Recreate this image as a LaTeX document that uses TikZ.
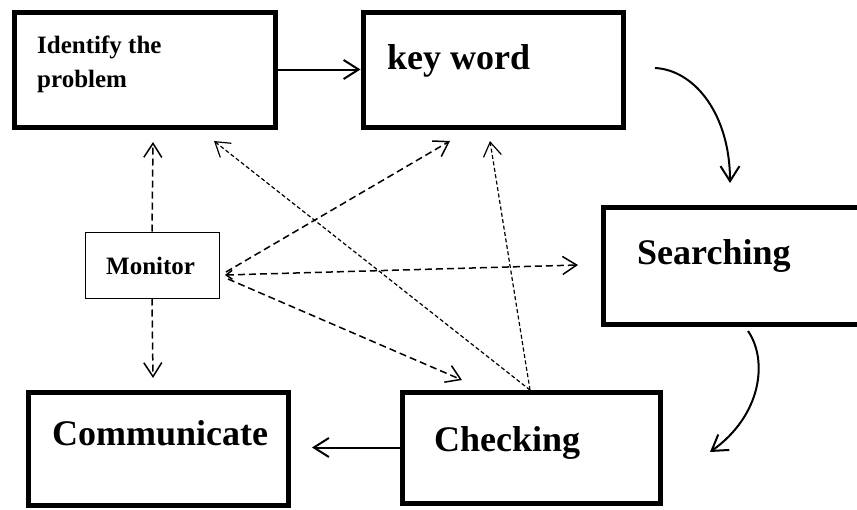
\documentclass[tikz,border=0pt]{standalone}
\usepackage{fontspec}
\setmainfont{Liberation Serif}
\usetikzlibrary{arrows.meta}

\tikzset{
  bigbox/.style={draw, line width=5pt, rectangle, inner sep=0pt},
  smallbox/.style={draw, line width=1pt, rectangle, inner sep=0pt},
  biglabel/.style={anchor=base west, inner sep=0pt, font=\fontsize{36}{40}\selectfont\bfseries},
  smalllabel/.style={anchor=base west, inner sep=0pt, font=\fontsize{25}{33}\selectfont\bfseries},
  flow/.style={line width=2pt, -{Straight Barb[length=15pt,width=19pt,line width=2pt]}},
  dashflow/.style={line width=1.5pt, dash pattern=on 7pt off 4pt,
    -{Straight Barb[length=14pt,width=18pt,line width=1.5pt]}},
  finedash/.style={line width=1.2pt, dash pattern=on 4pt off 2.5pt,
    -{Straight Barb[length=14pt,width=18pt,line width=1.2pt]}},
}

\begin{document}
\begin{tikzpicture}[x=1pt, y=-1pt]
\useasboundingbox (0,0) rectangle (857,509);
\clip (0,0) rectangle (857,509);

% process boxes
\node[bigbox, minimum width=261pt, minimum height=115pt] (idf) at (144.5,69.5) {};
\node[bigbox, minimum width=260pt, minimum height=115pt] (kw)  at (493,69.5) {};
\node[bigbox, minimum width=259pt, minimum height=117pt] (srch) at (732.5,265.5) {};
\node[bigbox, minimum width=258pt, minimum height=111pt] (chk) at (531,447.5) {};
\node[bigbox, minimum width=260pt, minimum height=113pt] (com) at (158,448.5) {};
\node[smallbox, minimum width=134pt, minimum height=66pt] (mon) at (152,265) {};

% labels
\node[smalllabel] (idft1) at (37,53) {Identify the};
\node[smalllabel] (idft2) at (37,87) {problem};
\node[biglabel] (kwt) at (387,69) {key word};
\node[biglabel] (srcht) at (637,264) {Searching};
\node[biglabel] (chkt) at (434,451) {Checking};
\node[biglabel] (comt) at (52,445) {Communicate};
\node[smalllabel] (mont) at (106,274) {Monitor};

% free ends of connectors
\coordinate (kwout) at (655,68);
\coordinate (srchin) at (730,183);
\coordinate (srchout) at (748,331);
\coordinate (chkin) at (710,452);
\coordinate (comin) at (312,447.5);
\coordinate (idfup) at (153,142);
\coordinate (comdown) at (153,378);
\coordinate (idftip) at (214,141);
\coordinate (kwtipA) at (450,141);
\coordinate (kwtipB) at (490,141);
\coordinate (srchtip) at (578,265);
\coordinate (chktip) at (462,380);
\coordinate (monA) at (226,272);
\coordinate (monB) at (225,275);
\coordinate (monC) at (228,279);
\coordinate (chktop) at (530,390);

% main flow
\draw[flow] (idf.east) -- (kw.west);
\draw[flow] (kwout) .. controls (695,70) and (730,115) .. (srchin);
\draw[flow] (srchout) .. controls (768,360) and (762,415) .. (chkin);
\draw[flow] (chk.west) -- (comin);

% monitoring links
\draw[dashflow] (mon.north) -- (idfup);
\draw[dashflow] (mon.south) -- (comdown);
\draw[dashflow] (monA) -- (kwtipA);
\draw[dashflow, {Straight Barb[length=6pt,width=9pt,line width=1.5pt]}-{Straight Barb[length=14pt,width=18pt,line width=1.5pt]}] (monB) -- (srchtip);
\draw[dashflow] (monC) -- (chktip);
\draw[finedash] (chktop) -- (idftip);
\draw[finedash] (chktop) -- (kwtipB);
\end{tikzpicture}
\end{document}
